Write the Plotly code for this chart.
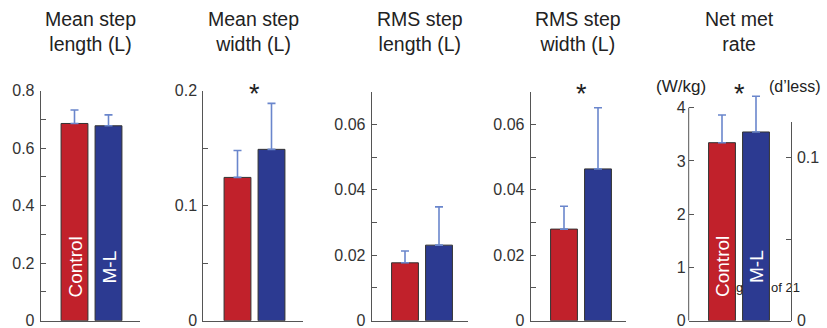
import plotly.graph_objects as go

# ---------------- data ----------------
categories = ["Control", "M-L"]
titles = ["Mean step<br>length (L)", "Mean step<br>width (L)", "RMS step<br>length (L)",
          "RMS step<br>width (L)", "Net met<br>rate"]
mean_step_length = [0.686, 0.678]
mean_step_length_err = [0.047, 0.038]
mean_step_width = [0.1246, 0.149]
mean_step_width_err = [0.0234, 0.040]
rms_step_length = [0.0177, 0.0231]
rms_step_length_err = [0.0036, 0.0117]
rms_step_width = [0.028, 0.0464]
rms_step_width_err = [0.007, 0.0187]
net_met_rate = [3.343, 3.544]
net_met_rate_err = [0.52, 0.67]
significant = [False, True, False, True, True]

values = [mean_step_length, mean_step_width, rms_step_length, rms_step_width, net_met_rate]
errors = [mean_step_length_err, mean_step_width_err, rms_step_length_err, rms_step_width_err, net_met_rate_err]
y_axis_max = [0.8, 0.2, 0.07, 0.07, 4]        # where the drawn axis line ends
y_plot_max = [0.8, 0.2, 0.07, 0.07, 4.35]     # plotting range (room for the error bar)
y_dticks = [0.2, 0.1, 0.02, 0.02, 1]
y_minor = [0.1, 0.05, 0.01, 0.01, None]
right_range = [0, 0.1218]
right_tickvals = [0, 0.05, 0.1]
right_ticktext = ["0", "", "0.1"]

# ---------------- layout geometry (pixels) ----------------
W, H = 827, 328
panels_px = [(40.7, 140, 320.7, 90.7), (203.3, 303, 320.7, 90.7), (371.7, 468, 320.7, 91.7),
             (530.7, 626, 320.7, 91.7), (688.7, 790.7, 320.7, 107.7)]
red_center_px = [74.5, 237.5, 405, 564, 722]
unit_px = 34.0
right_axis_top_px = 121.7

FONT = "Liberation Sans, Arial, Helvetica, sans-serif"
RED = "#C1212B"
BLUE = "#2C3A91"
ERR = "#6A86CC"
AX = "#555555"

def fx(px):
    return px / W

def fy(py):
    return (H - py) / H

fig = go.Figure()
annotations = []
shapes = []
layout = {}

for i in range(5):
    n = i + 1
    x0, x1, yb, yt = panels_px[i]
    xa = "x" if n == 1 else f"x{n}"
    ya = "y" if n == 1 else f"y{n}"
    fig.add_trace(go.Bar(
        x=categories, y=values[i], xaxis=xa, yaxis=ya,
        marker=dict(color=[RED, BLUE], line=dict(color="#333333", width=1)),
        width=0.79,
        error_y=dict(type="data", symmetric=False, array=errors[i], arrayminus=[0, 0],
                     color=ERR, thickness=1.6, width=4),
        showlegend=False, hoverinfo="skip",
    ))
    rc = red_center_px[i]
    layout[f"xaxis{n}"] = dict(
        domain=[fx(x0), fx(x1)], range=[(x0 - rc) / unit_px, (x1 - rc) / unit_px],
        anchor=ya, showline=True, linecolor=AX, linewidth=1, showticklabels=False,
        ticks="", showgrid=False, zeroline=False, fixedrange=True, automargin=False,
    )
    extended = y_plot_max[i] > y_axis_max[i]
    top_px = yb - (yb - yt) * y_plot_max[i] / y_axis_max[i]
    yax = dict(
        domain=[fy(yb), fy(top_px)], range=[0, y_plot_max[i]], anchor=xa,
        showline=not extended, linecolor=AX, linewidth=1, showgrid=False, zeroline=False,
        ticks="inside", ticklen=5, tickcolor=AX, tickwidth=1,
        tick0=0, dtick=y_dticks[i], automargin=False, ticklabeloverflow="allow",
        tickfont=dict(family=FONT, size=16, color="#333333"),
        ticklabelstandoff=2,
    )
    if y_minor[i] is not None:
        yax["minor"] = dict(ticks="inside", ticklen=5, tickcolor=AX, tickwidth=1,
                            tick0=0, dtick=y_minor[i], showgrid=False)
    layout[f"yaxis{n}"] = yax
    if extended:
        shapes.append(dict(type="line", xref="paper", yref=ya, x0=fx(x0), x1=fx(x0),
                           y0=0, y1=y_axis_max[i], line=dict(color=AX, width=1)))
    # title
    annotations.append(dict(
        text=titles[i], x=fx((x0 + x1) / 2), y=fy(32), xref="paper", yref="paper",
        xanchor="center", yanchor="middle", showarrow=False, align="center",
        font=dict(family=FONT, size=19.5, color="#222222"),
    ))
    if significant[i]:
        annotations.append(dict(
            text="*", x=fx(rc + unit_px / 2), y=fy(94), xref="paper", yref="paper",
            xanchor="center", yanchor="middle", showarrow=False,
            font=dict(family=FONT, size=27, color="#222222"),
        ))

# right axis for panel 5
x0, x1, yb, yt = panels_px[4]
fig.add_trace(go.Scatter(x=[None], y=[None], xaxis="x5", yaxis="y6", mode="markers",
                         showlegend=False, hoverinfo="skip"))
layout["yaxis6"] = dict(
    domain=[fy(yb), fy(right_axis_top_px)], range=right_range, anchor="x5", side="right",
    showline=True, linecolor=AX, linewidth=1, showgrid=False, zeroline=False,
    ticks="inside", ticklen=5, tickcolor=AX, tickwidth=1,
    tickvals=right_tickvals, ticktext=right_ticktext, automargin=False,
    ticklabeloverflow="allow",
    tickfont=dict(family=FONT, size=16, color="#333333"), ticklabelstandoff=2,
)

# unit labels for panel 5
annotations.append(dict(text="(W/kg)", x=fx(681), y=fy(86), xref="paper", yref="paper",
                        xanchor="center", yanchor="middle", showarrow=False,
                        font=dict(family=FONT, size=17, color="#222222")))
annotations.append(dict(text="(d\u2019less)", x=fx(768), y=fy(86), xref="paper", yref="paper",
                        xanchor="left", yanchor="middle", showarrow=False, borderpad=0,
                        font=dict(family=FONT, size=16, color="#222222")))

# category labels inside bars (panels 1 and 5)
for n, xref_ in [(1, "x"), (5, "x5")]:
    for c in categories:
        annotations.append(dict(
            text=c, x=c, xref=xref_, y=fy(267), yref="paper", textangle=-90,
            xanchor="center", yanchor="middle", showarrow=False,
            font=dict(family=FONT, size=19, color="white"),
        ))

# page footer text partly hidden behind the bars
shapes.append(dict(type="rect", xref="paper", yref="paper",
                   x0=fx(719), x1=fx(801), y0=fy(294), y1=fy(278),
                   line=dict(width=0, color="rgba(0,0,0,0)"), fillcolor="rgba(0,0,0,0)",
                   layer="below",
                   label=dict(text="Page 11 of 21", textposition="middle center", padding=0,
                              font=dict(family=FONT, size=13, color="#222222"))))

fig.update_layout(
    template="none",
    width=W, height=H, margin=dict(l=0, r=0, t=0, b=0, pad=0, autoexpand=False),
    paper_bgcolor="white", plot_bgcolor="rgba(0,0,0,0)",
    annotations=annotations, shapes=shapes, bargap=0.2, **layout,
)

fig.write_html("out.html", config={"displayModeBar": False})
